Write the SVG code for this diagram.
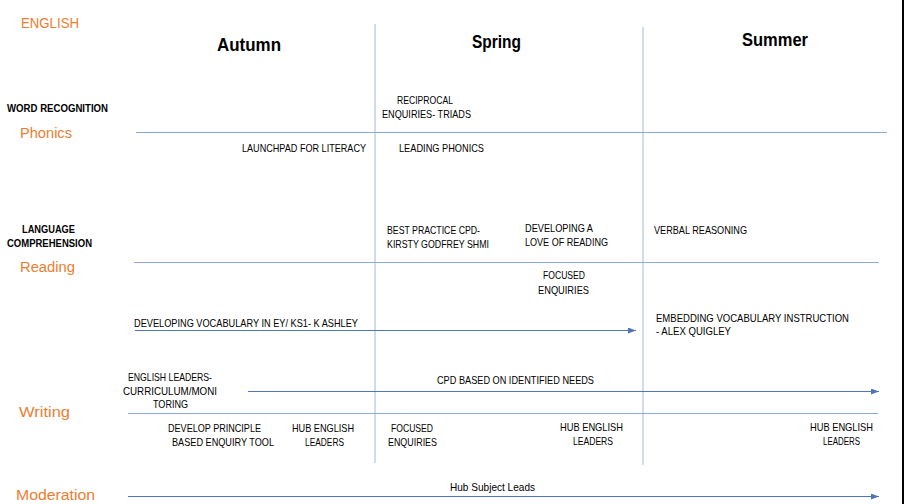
<svg xmlns="http://www.w3.org/2000/svg" width="904" height="504" viewBox="0 0 904 504">
<style>
text{font-family:"Liberation Sans",Arial,sans-serif;fill:#000}
.t{font-size:11px}
.b{font-size:10px;font-weight:bold}
.h{font-size:17.5px;font-weight:bold}
.o{font-size:15.5px;fill:#ed7d31}
.grid{stroke:#8fa9d6;stroke-width:1;fill:none}
.vgrid{stroke:#b3c3e3;stroke-width:1.2;fill:none}
.arr{stroke:#4f74b8;stroke-width:1;fill:none;marker-end:url(#ah)}
</style>
<defs>
<marker id="ah" viewBox="0 0 8 6" refX="8" refY="3" markerWidth="8" markerHeight="6" markerUnits="userSpaceOnUse" orient="auto">
<path d="M0,0 L8,3 L0,6 z" fill="#4f74b8"/>
</marker>
</defs>
<rect width="904" height="504" fill="#fff"/>
<g id="grid">
<line class="vgrid" x1="375" y1="24" x2="375" y2="463"/>
<line class="vgrid" x1="643" y1="27" x2="643" y2="465"/>
<line class="grid" x1="136" y1="132.5" x2="887" y2="132.5"/>
<line class="grid" x1="134" y1="262.5" x2="879" y2="262.5"/>
<line class="grid" x1="128" y1="413.5" x2="878" y2="413.5"/>
</g>
<line x1="903" y1="0" x2="903" y2="504" stroke="#000" stroke-width="2"/>
<g id="connectors">
<line class="arr" x1="135" y1="330.5" x2="636" y2="330.5"/>
<line class="arr" x1="248" y1="391.5" x2="879" y2="391.5"/>
<line class="arr" x1="128" y1="496.5" x2="879" y2="496.5"/>
</g>
<g id="title"><text class="o" x="21" y="28" textLength="58" lengthAdjust="spacingAndGlyphs">ENGLISH</text></g>
<g id="autumn"><text class="h" x="217" y="51" textLength="64" lengthAdjust="spacingAndGlyphs">Autumn</text></g>
<g id="spring"><text class="h" x="472" y="48" textLength="49" lengthAdjust="spacingAndGlyphs">Spring</text></g>
<g id="summer"><text class="h" x="742" y="46" textLength="66" lengthAdjust="spacingAndGlyphs">Summer</text></g>
<g id="word-recognition"><text class="b" x="7" y="112" textLength="101" lengthAdjust="spacingAndGlyphs">WORD RECOGNITION</text></g>
<g id="phonics"><text class="o" x="20" y="138" textLength="52" lengthAdjust="spacingAndGlyphs">Phonics</text></g>
<g id="reciprocal">
<text class="t" x="397" y="104" textLength="56" lengthAdjust="spacingAndGlyphs">RECIPROCAL</text>
<text class="t" x="382" y="118" textLength="89" lengthAdjust="spacingAndGlyphs">ENQUIRIES- TRIADS</text>
</g>
<g id="launchpad"><text class="t" x="242" y="152" textLength="124" lengthAdjust="spacingAndGlyphs">LAUNCHPAD FOR LITERACY</text></g>
<g id="leading-phonics"><text class="t" x="399" y="152" textLength="85" lengthAdjust="spacingAndGlyphs">LEADING PHONICS</text></g>
<g id="language-comprehension">
<text class="b" x="22" y="233" textLength="53" lengthAdjust="spacingAndGlyphs">LANGUAGE</text>
<text class="b" x="7" y="247" textLength="85" lengthAdjust="spacingAndGlyphs">COMPREHENSION</text>
</g>
<g id="reading"><text class="o" x="20" y="272" textLength="55" lengthAdjust="spacingAndGlyphs">Reading</text></g>
<g id="best-practice">
<text class="t" x="387" y="234" textLength="93" lengthAdjust="spacingAndGlyphs">BEST PRACTICE CPD-</text>
<text class="t" x="387" y="248" textLength="102" lengthAdjust="spacingAndGlyphs">KIRSTY GODFREY SHMI</text>
</g>
<g id="love-of-reading">
<text class="t" x="525" y="232" textLength="68" lengthAdjust="spacingAndGlyphs">DEVELOPING A</text>
<text class="t" x="525" y="246" textLength="83" lengthAdjust="spacingAndGlyphs">LOVE OF READING</text>
</g>
<g id="verbal-reasoning"><text class="t" x="654" y="234" textLength="93" lengthAdjust="spacingAndGlyphs">VERBAL REASONING</text></g>
<g id="focused-reading">
<text class="t" x="543" y="279" textLength="42" lengthAdjust="spacingAndGlyphs">FOCUSED</text>
<text class="t" x="538" y="294" textLength="51" lengthAdjust="spacingAndGlyphs">ENQUIRIES</text>
</g>
<g id="developing-vocabulary"><text class="t" x="134" y="327" textLength="224" lengthAdjust="spacingAndGlyphs">DEVELOPING VOCABULARY IN EY/ KS1- K ASHLEY</text></g>
<g id="embedding-vocabulary">
<text class="t" x="656" y="322" textLength="193" lengthAdjust="spacingAndGlyphs">EMBEDDING VOCABULARY INSTRUCTION</text>
<text class="t" x="656" y="335" textLength="75" lengthAdjust="spacingAndGlyphs">- ALEX QUIGLEY</text>
</g>
<g id="english-leaders">
<text class="t" x="128" y="381" textLength="84" lengthAdjust="spacingAndGlyphs">ENGLISH LEADERS-</text>
<text class="t" x="123" y="395" textLength="94" lengthAdjust="spacingAndGlyphs">CURRICULUM/MONI</text>
<text class="t" x="153" y="408" textLength="35" lengthAdjust="spacingAndGlyphs">TORING</text>
</g>
<g id="cpd-needs"><text class="t" x="437" y="384" textLength="157" lengthAdjust="spacingAndGlyphs">CPD BASED ON IDENTIFIED NEEDS</text></g>
<g id="writing"><text class="o" x="19" y="417" textLength="51" lengthAdjust="spacingAndGlyphs">Writing</text></g>
<g id="develop-principle">
<text class="t" x="168" y="432" textLength="93" lengthAdjust="spacingAndGlyphs">DEVELOP PRINCIPLE</text>
<text class="t" x="172" y="446" textLength="102" lengthAdjust="spacingAndGlyphs">BASED ENQUIRY TOOL</text>
</g>
<g id="hub-autumn">
<text class="t" x="292" y="432" textLength="62" lengthAdjust="spacingAndGlyphs">HUB ENGLISH</text>
<text class="t" x="305" y="446" textLength="39" lengthAdjust="spacingAndGlyphs">LEADERS</text>
</g>
<g id="focused-writing">
<text class="t" x="391" y="432" textLength="42" lengthAdjust="spacingAndGlyphs">FOCUSED</text>
<text class="t" x="388" y="446" textLength="49" lengthAdjust="spacingAndGlyphs">ENQUIRIES</text>
</g>
<g id="hub-spring">
<text class="t" x="560" y="431" textLength="63" lengthAdjust="spacingAndGlyphs">HUB ENGLISH</text>
<text class="t" x="573" y="445" textLength="40" lengthAdjust="spacingAndGlyphs">LEADERS</text>
</g>
<g id="hub-summer">
<text class="t" x="810" y="431" textLength="63" lengthAdjust="spacingAndGlyphs">HUB ENGLISH</text>
<text class="t" x="823" y="445" textLength="37" lengthAdjust="spacingAndGlyphs">LEADERS</text>
</g>
<g id="hub-subject-leads"><text class="t" x="450" y="491" textLength="85" lengthAdjust="spacingAndGlyphs">Hub Subject Leads</text></g>
<g id="moderation"><text class="o" x="16" y="500" textLength="79" lengthAdjust="spacingAndGlyphs">Moderation</text></g>
</svg>
